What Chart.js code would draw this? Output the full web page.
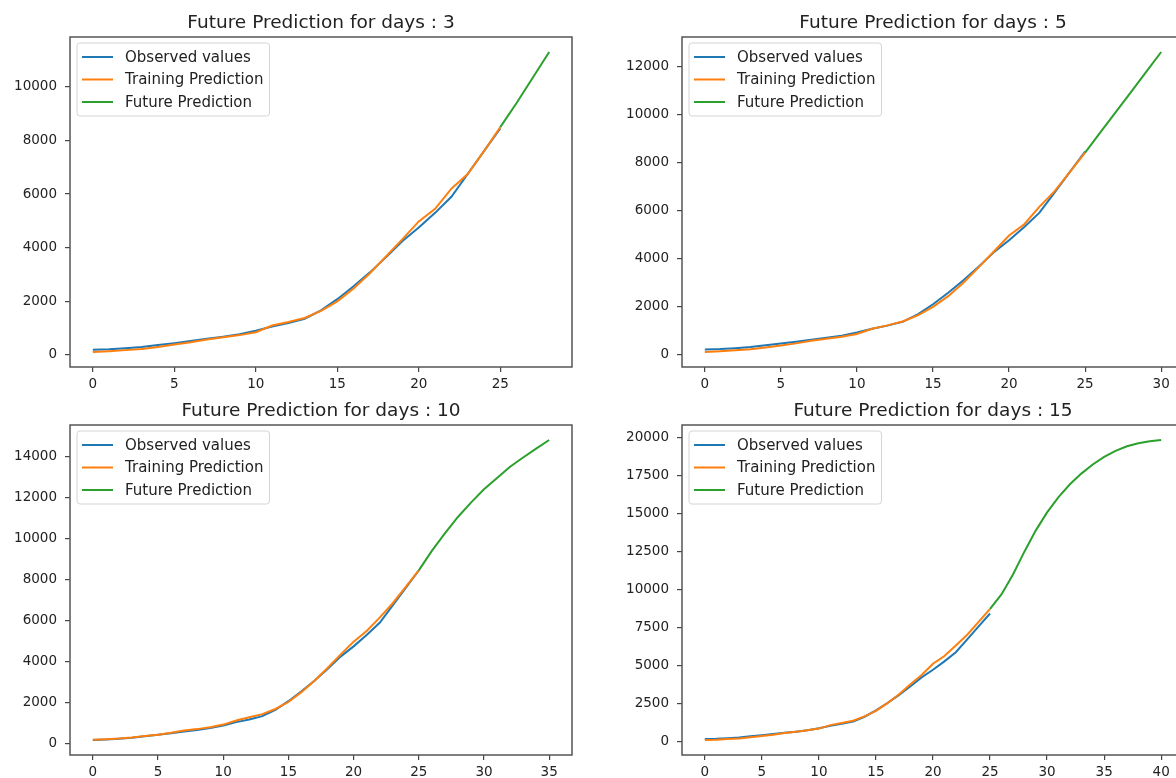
<!DOCTYPE html>
<html>
<head>
<meta charset="utf-8">
<script src="https://cdn.jsdelivr.net/npm/chart.js@4.4.1/dist/chart.umd.min.js"></script>
<style>
  html, body { margin: 0; padding: 0; background: #fff; width: 1176px; height: 778px; overflow: hidden; }
  .panel { position: absolute; width: 600px; height: 400px; }
</style>
</head>
<body>
<div class="panel" style="left:0;top:0"><canvas id="chart-3" width="600" height="400"></canvas></div>
<div class="panel" style="left:612px;top:0"><canvas id="chart-5" width="600" height="400"></canvas></div>
<div class="panel" style="left:0;top:388px"><canvas id="chart-10" width="600" height="400"></canvas></div>
<div class="panel" style="left:612px;top:388px"><canvas id="chart-15" width="600" height="400"></canvas></div>
<script>
/* ══════════════════════════════════════
   Future prediction — 4 panels
   observed / training / future lines
══════════════════════════════════════ */

// ── Data ──
const DAYS = [0, 1, 2, 3, 4, 5, 6, 7, 8, 9, 10, 11, 12, 13, 14, 15, 16, 17, 18, 19, 20, 21, 22, 23, 24, 25];
const OBSERVED = [190, 210, 250, 300, 370, 440, 520, 600, 680, 770, 900, 1060, 1190, 1350, 1660, 2080, 2560, 3080, 3650, 4250, 4750, 5300, 5900, 6750, 7600, 8450];

const TRAIN_3  = [110, 140, 180, 220, 300, 390, 470, 580, 660, 740, 850, 1100, 1230, 1380, 1640, 2000, 2480, 3050, 3680, 4320, 4980, 5450, 6200, 6750, 7600, 8500];
const TRAIN_5  = [90, 120, 160, 200, 280, 360, 450, 560, 640, 730, 840, 1060, 1200, 1360, 1620, 1970, 2420, 2980, 3620, 4280, 4950, 5420, 6150, 6800, 7600, 8400];
const TRAIN_10 = [200, 230, 260, 310, 380, 450, 540, 650, 720, 810, 940, 1140, 1300, 1450, 1700, 2040, 2520, 3080, 3700, 4350, 4980, 5500, 6150, 6850, 7650, 8450];
const TRAIN_15 = [130, 150, 190, 230, 310, 400, 480, 590, 680, 770, 880, 1110, 1250, 1400, 1680, 2050, 2550, 3120, 3780, 4400, 5150, 5650, 6350, 7050, 7900, 8750];

const FUTURE_DAYS_3  = [25, 26, 27, 28];
const FUTURE_3       = [8500, 9400, 10350, 11300];
const FUTURE_DAYS_5  = [25, 26, 27, 28, 29, 30];
const FUTURE_5       = [8400, 9250, 10080, 10920, 11760, 12600];
const FUTURE_DAYS_10 = [25, 26, 27, 28, 29, 30, 31, 32, 33, 34, 35];
const FUTURE_10      = [8450, 9400, 10250, 11050, 11750, 12400, 12950, 13500, 13950, 14380, 14800];
const FUTURE_DAYS_15 = [25, 26, 27, 28, 29, 30, 31, 32, 33, 34, 35, 36, 37, 38, 39, 40];
const FUTURE_15      = [8750, 9700, 11000, 12500, 13900, 15100, 16100, 16950, 17650, 18250, 18750, 19150, 19450, 19650, 19780, 19860];

const X_TICKS_3  = [0, 5, 10, 15, 20, 25];
const X_TICKS_5  = [0, 5, 10, 15, 20, 25, 30];
const X_TICKS_10 = [0, 5, 10, 15, 20, 25, 30, 35];
const X_TICKS_15 = [0, 5, 10, 15, 20, 25, 30, 35, 40];

const Y_TICKS_3  = [0, 2000, 4000, 6000, 8000, 10000];
const Y_TICKS_5  = [0, 2000, 4000, 6000, 8000, 10000, 12000];
const Y_TICKS_10 = [0, 2000, 4000, 6000, 8000, 10000, 12000, 14000];
const Y_TICKS_15 = [0, 2500, 5000, 7500, 10000, 12500, 15000, 17500, 20000];

const SERIES_NAMES = ['Observed values', 'Training Prediction', 'Future Prediction'];
const TITLE_PREFIX = 'Future Prediction for days : ';

// ── Styles ──
var BLUE   = '#1f77b4';
var ORANGE = '#ff7f0e';
var GREEN  = '#2ca02c';
var FONT   = '"DejaVu Sans", Verdana, sans-serif';

// ── Frame, legend and title plugin ──
var panelDecor = {
  id: 'panelDecor',
  afterDatasetsDraw: function(chart) {
    var a   = chart.chartArea;
    var ctx = chart.ctx;
    ctx.save();

    // frame (all four spines)
    ctx.strokeStyle = '#555';
    ctx.lineWidth   = 1.5;
    ctx.strokeRect(a.left, a.top, a.right - a.left, a.bottom - a.top);

    // legend box
    ctx.font = '15px ' + FONT;
    var sets = chart.data.datasets;
    var maxW = 0;
    sets.forEach(function(d) { maxW = Math.max(maxW, ctx.measureText(d.label).width); });
    var bx = a.left + 7, by = a.top + 6;
    var bw = 48 + maxW + 6, bh = 73;
    ctx.beginPath();
    ctx.roundRect(bx, by, bw, bh, 3);
    ctx.fillStyle = 'rgba(255,255,255,0.8)';
    ctx.fill();
    ctx.strokeStyle = '#d4d4d4';
    ctx.lineWidth   = 1;
    ctx.stroke();

    sets.forEach(function(d, i) {
      var y = by + 14 + i * 22.5;
      ctx.strokeStyle = d.borderColor;
      ctx.lineWidth   = 2;
      ctx.beginPath();
      ctx.moveTo(bx + 5, y);
      ctx.lineTo(bx + 36, y);
      ctx.stroke();
      ctx.fillStyle    = '#222';
      ctx.textBaseline = 'middle';
      ctx.textAlign    = 'left';
      ctx.fillText(d.label, bx + 48, y + 1);
    });

    // title
    ctx.font         = '18.5px ' + FONT;
    ctx.fillStyle    = '#222';
    ctx.textAlign    = 'center';
    ctx.textBaseline = 'alphabetic';
    ctx.fillText(chart.options.plugins.panelDecor.title, (a.left + a.right) / 2, a.top - 9);
    ctx.restore();
  }
};

function toPoints(xs, ys) {
  return xs.map(function(x, i) { return { x: x, y: ys[i] }; });
}

// ── Draw one panel ──
function drawPanel(canvasId, days, train, futureDays, future, xTicks, yTicks) {
  var all  = OBSERVED.concat(train, future);
  var yMin = Math.min.apply(null, all);
  var yMax = Math.max.apply(null, all);
  var yPad = (yMax - yMin) * 0.05;
  var xMax = futureDays[futureDays.length - 1];
  var xPad = xMax * 0.05;

  var tickFont = { family: FONT, size: 13.5 };
  var plain    = function(value) { return String(value); };

  var axisStyle = {
    grid   : { display: true, drawOnChartArea: false, drawTicks: true, tickLength: 5, color: '#444', lineWidth: 1.2 },
    border : { display: false },
  };

  new Chart(document.getElementById(canvasId), {
    type : 'line',
    data : {
      datasets : [
        { label: SERIES_NAMES[0], data: toPoints(DAYS, OBSERVED), borderColor: BLUE, order: 3 },
        { label: SERIES_NAMES[1], data: toPoints(DAYS, train), borderColor: ORANGE, order: 2 },
        { label: SERIES_NAMES[2], data: toPoints(futureDays, future), borderColor: GREEN, order: 1 },
      ],
    },
    options : {
      responsive : false,
      animation  : false,
      layout     : { padding: { top: 37, right: 28, left: 0, bottom: 0 } },
      elements   : {
        point : { radius: 0 },
        line  : { borderWidth: 2, tension: 0, fill: false },
      },
      plugins : {
        legend     : { display: false },
        tooltip    : { enabled: false },
        title      : { display: false },
        panelDecor : { title: TITLE_PREFIX + days },
      },
      scales : {
        x : Object.assign({}, axisStyle, {
          type  : 'linear',
          min   : -xPad,
          max   : xMax + xPad,
          ticks : { font: tickFont, color: '#222', autoSkip: false, maxRotation: 0, padding: 4, callback: plain },
          afterBuildTicks : function(s) { s.ticks = xTicks.map(function(v) { return { value: v }; }); },
          afterFit        : function(s) { s.height = 33; },
        }),
        y : Object.assign({}, axisStyle, {
          type  : 'linear',
          min   : yMin - yPad,
          max   : yMax + yPad,
          ticks : { font: tickFont, color: '#222', autoSkip: false, padding: 8, callback: plain },
          afterBuildTicks : function(s) { s.ticks = yTicks.map(function(v) { return { value: v }; }); },
          afterFit        : function(s) { s.width = 70; },
        }),
      },
    },
    plugins : [panelDecor],
  });
}

drawPanel('chart-3',  3,  TRAIN_3,  FUTURE_DAYS_3,  FUTURE_3,  X_TICKS_3,  Y_TICKS_3);
drawPanel('chart-5',  5,  TRAIN_5,  FUTURE_DAYS_5,  FUTURE_5,  X_TICKS_5,  Y_TICKS_5);
drawPanel('chart-10', 10, TRAIN_10, FUTURE_DAYS_10, FUTURE_10, X_TICKS_10, Y_TICKS_10);
drawPanel('chart-15', 15, TRAIN_15, FUTURE_DAYS_15, FUTURE_15, X_TICKS_15, Y_TICKS_15);
</script>
</body>
</html>
